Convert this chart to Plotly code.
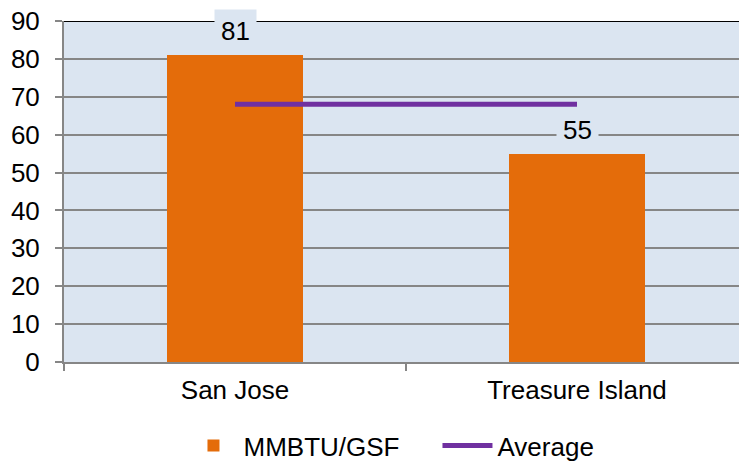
import plotly.graph_objects as go

# data
categories = ["San Jose", "Treasure Island"]
mmbtu_gsf = [81, 55]
average = [68, 68]
bar_name = "MMBTU/GSF"
line_name = "Average"

x_pos = list(range(len(categories)))

fig = go.Figure()

fig.add_trace(go.Bar(
    x=x_pos, y=mmbtu_gsf, name=bar_name, width=0.4,
    marker=dict(color="#E46C0A", line=dict(width=0)),
))
fig.add_trace(go.Scatter(
    x=x_pos, y=average, name=line_name, mode="lines",
    line=dict(color="#7030A0", width=5),
))

# value labels with boxes like the source
for xi, v in zip(x_pos, mmbtu_gsf):
    fig.add_annotation(
        x=xi, y=v, text=str(v), showarrow=False, yanchor="bottom", yshift=2,
        font=dict(size=26, color="#000000"), bgcolor="#DBE5F1", borderpad=6,
    )

# top border of plot area
fig.add_shape(type="line", xref="paper", yref="y", x0=0, x1=1, y0=90, y1=90,
              line=dict(color="#000000", width=2))

fig.update_layout(
    width=739, height=463,
    margin=dict(l=64, r=0, t=21, b=101, autoexpand=False),
    paper_bgcolor="white", plot_bgcolor="#DBE5F1",
    font=dict(family="Liberation Sans, Arial, sans-serif", size=26, color="#000000"),
    showlegend=True,
    legend=dict(orientation="h", x=0.177, xanchor="left", y=-0.245, yanchor="middle",
                font=dict(size=26), itemwidth=50, entrywidth=189, entrywidthmode="pixels",
                traceorder="normal"),
    bargap=0,
    xaxis=dict(
        range=[-0.5, 1.4737], tickvals=x_pos, ticktext=categories, ticks="",
        showgrid=False, zeroline=False, showline=True, linecolor="#868686", linewidth=2,
        minor=dict(tickvals=[-0.5, 0.5], ticks="outside", ticklen=7, tickcolor="#868686",
                   tickwidth=2, showgrid=False),
        ticklabelstandoff=4, automargin=False,
    ),
    yaxis=dict(
        range=[0, 90], dtick=10, ticks="outside", ticklen=7, tickcolor="#868686", tickwidth=2,
        showgrid=True, gridcolor="#868686", gridwidth=2, zeroline=False,
        showline=True, linecolor="#868686", linewidth=2, ticklabelstandoff=10,
        automargin=False,
    ),
)

fig.write_html("out.html", config={"displayModeBar": False},
               post_script="document.body.style.margin='0';")
